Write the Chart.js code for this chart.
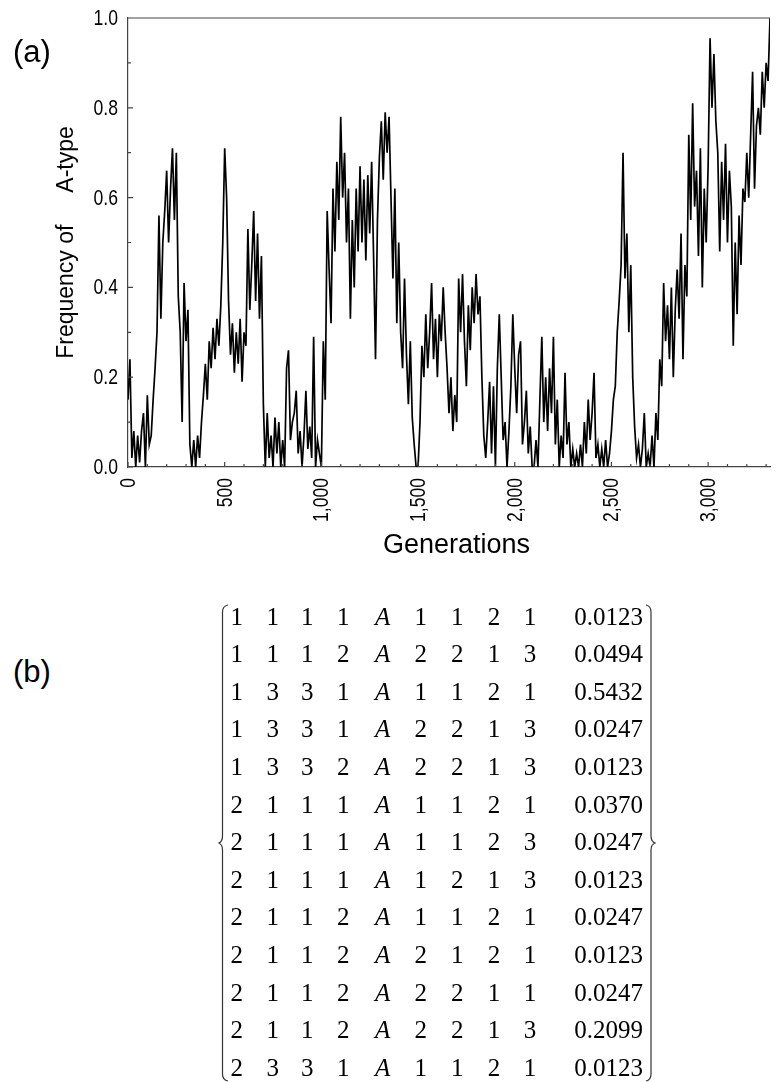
<!DOCTYPE html>
<html>
<head>
<meta charset="utf-8">
<script src="https://cdn.jsdelivr.net/npm/chart.js@4.4.1/dist/chart.umd.min.js"></script>
<style>
  html, body { margin: 0; padding: 0; background: #fff; }
  #page { position: relative; width: 778px; height: 1082px; overflow: hidden; font-family: 'Liberation Sans', Arial, sans-serif; color: #000; }
  #chart { position: absolute; left: 0; top: 0; }
  .panel { position: absolute; left: 13px; font-size: 31px; line-height: 1; }
  .cell, .val { position: absolute; font-family: 'Liberation Serif', 'Times New Roman', serif; font-size: 25px; line-height: 1; white-space: nowrap; }
  .cell { transform: translate(-50%, -50%); }
  .val { transform: translateY(-50%); }
  .cell.it { font-style: italic; }
  #brace { position: absolute; left: 0; top: 0; }
</style>
</head>
<body>
<div id="page">
  <canvas id="chart" width="778" height="570"></canvas>
  <div class="panel" style="top:36px">(a)</div>
  <div class="panel" style="top:656px">(b)</div>
  <svg id="brace" width="778" height="1082">
    <path d="M228 605 Q222.5 606 222.5 612 L222.5 836 Q222.5 842 218.5 843 Q222.5 844 222.5 850 L222.5 1074 Q222.5 1080 228 1081"
          fill="none" stroke="#333" stroke-width="1.2"/>
    <path d="M646 605 Q651 606 651 612 L651 836 Q651 842 655.5 843 Q651 844 651 850 L651 1074 Q651 1080 646 1081"
          fill="none" stroke="#333" stroke-width="1.2"/>
  </svg>
</div>
<script>
// frequency of the A-type, one reading every 10 generations
const genStep = 10;
const freqA = [
  0.15, 0.24, 0.02, 0.08, 0.00, 0.07, 0.01, 0.08, 0.12, 0.00,   // 0
  0.16, 0.05, 0.07, 0.15, 0.22, 0.30, 0.56, 0.33, 0.50, 0.57,   // 100
  0.66, 0.50, 0.62, 0.71, 0.55, 0.70, 0.38, 0.30, 0.10, 0.41,   // 200
  0.28, 0.35, 0.05, 0.00, 0.06, 0.00, 0.07, 0.02, 0.10, 0.16,   // 300
  0.23, 0.15, 0.28, 0.22, 0.31, 0.24, 0.33, 0.27, 0.36, 0.50,   // 400
  0.71, 0.60, 0.37, 0.25, 0.32, 0.21, 0.30, 0.23, 0.33, 0.19,   // 500
  0.30, 0.27, 0.53, 0.35, 0.45, 0.57, 0.37, 0.52, 0.33, 0.47,   // 600
  0.14, 0.00, 0.12, 0.02, 0.07, 0.00, 0.11, 0.03, 0.10, 0.00,   // 700
  0.06, 0.00, 0.22, 0.26, 0.06, 0.10, 0.12, 0.17, 0.03, 0.08,   // 800
  0.00, 0.07, 0.17, 0.04, 0.09, 0.02, 0.29, 0.00, 0.06, 0.03,   // 900
  0.00, 0.28, 0.15, 0.57, 0.44, 0.32, 0.62, 0.48, 0.68, 0.55,   // 1000
  0.78, 0.60, 0.70, 0.50, 0.62, 0.33, 0.55, 0.40, 0.62, 0.48,   // 1100
  0.67, 0.50, 0.64, 0.46, 0.65, 0.52, 0.68, 0.47, 0.24, 0.55,   // 1200
  0.69, 0.77, 0.64, 0.79, 0.70, 0.78, 0.60, 0.42, 0.62, 0.32,   // 1300
  0.50, 0.30, 0.22, 0.42, 0.25, 0.14, 0.28, 0.11, 0.05, 0.00,   // 1400
  0.00, 0.10, 0.27, 0.20, 0.34, 0.22, 0.30, 0.41, 0.24, 0.33,   // 1500
  0.20, 0.34, 0.28, 0.40, 0.30, 0.22, 0.12, 0.20, 0.08, 0.16,   // 1600
  0.10, 0.42, 0.30, 0.43, 0.28, 0.18, 0.36, 0.26, 0.40, 0.32,   // 1700
  0.43, 0.34, 0.38, 0.20, 0.07, 0.02, 0.10, 0.19, 0.03, 0.18,   // 1800
  0.00, 0.22, 0.34, 0.20, 0.06, 0.10, 0.00, 0.08, 0.18, 0.34,   // 1900
  0.22, 0.12, 0.25, 0.28, 0.05, 0.10, 0.17, 0.03, 0.09, 0.00,   // 2000
  0.00, 0.06, 0.00, 0.15, 0.29, 0.10, 0.20, 0.08, 0.22, 0.12,   // 2100
  0.29, 0.05, 0.15, 0.00, 0.07, 0.02, 0.21, 0.05, 0.10, 0.00,   // 2200
  0.04, 0.00, 0.03, 0.00, 0.05, 0.00, 0.10, 0.03, 0.15, 0.06,   // 2300
  0.12, 0.21, 0.02, 0.05, 0.00, 0.04, 0.00, 0.06, 0.00, 0.03,   // 2400
  0.08, 0.15, 0.18, 0.30, 0.37, 0.45, 0.70, 0.42, 0.52, 0.30,   // 2500
  0.45, 0.20, 0.09, 0.02, 0.05, 0.00, 0.04, 0.12, 0.00, 0.03,   // 2600
  0.00, 0.07, 0.00, 0.12, 0.06, 0.24, 0.18, 0.41, 0.28, 0.36,   // 2700
  0.24, 0.40, 0.20, 0.35, 0.44, 0.33, 0.52, 0.24, 0.45, 0.38,   // 2800
  0.74, 0.55, 0.81, 0.58, 0.66, 0.47, 0.71, 0.40, 0.62, 0.50,   // 2900
  0.67, 0.955, 0.80, 0.92, 0.77, 0.70, 0.48, 0.68, 0.55, 0.72,  // 3000
  0.50, 0.66, 0.58, 0.27, 0.50, 0.34, 0.56, 0.45, 0.62, 0.59,   // 3100
  0.70, 0.60, 0.74, 0.88, 0.62, 0.76, 0.80, 0.74, 0.88, 0.80,   // 3200
  0.90, 0.86, 1.00                                              // 3300
];

const xMax = 3320;
const xTickValues = [0, 500, 1000, 1500, 2000, 2500, 3000];
const yTickValues = [0, 0.2, 0.4, 0.6, 0.8, 1.0];

// panel (b): genotype rows, A in the fifth place, and their frequencies
const matrixRows = [
  [1, 1, 1, 1, 'A', 1, 1, 2, 1],
  [1, 1, 1, 2, 'A', 2, 2, 1, 3],
  [1, 3, 3, 1, 'A', 1, 1, 2, 1],
  [1, 3, 3, 1, 'A', 2, 2, 1, 3],
  [1, 3, 3, 2, 'A', 2, 2, 1, 3],
  [2, 1, 1, 1, 'A', 1, 1, 2, 1],
  [2, 1, 1, 1, 'A', 1, 1, 2, 3],
  [2, 1, 1, 1, 'A', 1, 2, 1, 3],
  [2, 1, 1, 2, 'A', 1, 1, 2, 1],
  [2, 1, 1, 2, 'A', 2, 1, 2, 1],
  [2, 1, 1, 2, 'A', 2, 2, 1, 1],
  [2, 1, 1, 2, 'A', 2, 2, 1, 3],
  [2, 3, 3, 1, 'A', 1, 1, 2, 1]
];
const matrixFreq = ['0.0123', '0.0494', '0.5432', '0.0247', '0.0123', '0.0370', '0.0247',
                    '0.0123', '0.0247', '0.0123', '0.0247', '0.2099', '0.0123'];

// matrix layout
const colX = [236.7, 272.7, 307.3, 343.3, 382.7, 420.7, 457.3, 494, 530];
const valRight = 643;
const rowTop = 617, rowGap = 37.6;

const page = document.getElementById('page');
matrixRows.forEach((row, r) => {
  const y = rowTop + r * rowGap - 1.5;
  row.forEach((v, c) => {
    const el = document.createElement('div');
    el.className = v === 'A' ? 'cell it' : 'cell';
    el.textContent = v;
    el.style.left = colX[c] + 'px';
    el.style.top = y + 'px';
    page.appendChild(el);
  });
  const val = document.createElement('div');
  val.className = 'val';
  val.textContent = matrixFreq[r];
  val.style.right = (778 - valRight) + 'px';
  val.style.top = y + 'px';
  page.appendChild(val);
});

// top frame line, inward tick marks, and narrow tick labels
const frameTicks = {
  id: 'frameTicks',
  afterDraw(chart) {
    const { ctx, chartArea: a, scales: { x, y } } = chart;
    ctx.save();
    ctx.strokeStyle = '#444';
    ctx.lineWidth = 1.2;
    ctx.beginPath();
    ctx.moveTo(a.left, a.top);
    ctx.lineTo(a.right, a.top);
    for (let g = 0; g <= xMax; g += 100) {
      const px = x.getPixelForValue(g);
      const len = g % 500 === 0 ? 5 : 3;
      ctx.moveTo(px, a.bottom);
      ctx.lineTo(px, a.bottom - len);
    }
    for (let k = 0; k <= 10; k++) {
      const py = y.getPixelForValue(k / 10);
      const len = k % 2 === 0 ? 5 : 3;
      ctx.moveTo(a.left, py);
      ctx.lineTo(a.left + len, py);
    }
    ctx.stroke();

    // labels are squeezed sideways like a narrow sans
    ctx.fillStyle = '#000';
    ctx.font = "22px 'Liberation Sans', Arial";
    ctx.textBaseline = 'middle';
    ctx.textAlign = 'right';
    yTickValues.forEach(v => {
      ctx.save();
      ctx.translate(a.left - 10, y.getPixelForValue(v) + 1);
      ctx.scale(0.8, 1);
      ctx.fillText(v.toFixed(1), 0, 0);
      ctx.restore();
    });
    xTickValues.forEach(v => {
      ctx.save();
      ctx.translate(x.getPixelForValue(v) + 1, a.bottom + 11);
      ctx.rotate(-Math.PI / 2);
      ctx.scale(0.8, 1);
      ctx.fillText(v.toLocaleString('en-US'), 0, 0);
      ctx.restore();
    });
    ctx.restore();
  }
};

new Chart(document.getElementById('chart'), {
  type: 'line',
  data: {
    datasets: [{
      data: freqA.map((v, i) => ({ x: i * genStep, y: v })),
      borderColor: '#000',
      borderWidth: 1.7,
      pointRadius: 0,
      tension: 0,
      fill: false
    }]
  },
  options: {
    responsive: false,
    animation: false,
    devicePixelRatio: 1,
    layout: { padding: { top: 18, right: 8, left: 0, bottom: 0 } },
    plugins: { legend: { display: false }, tooltip: { enabled: false } },
    scales: {
      x: {
        type: 'linear',
        min: 0,
        max: xMax,
        grid: { display: false, drawTicks: false },
        border: { display: true, color: '#444', width: 1.2 },
        afterFit: s => { s.height = 103; },
        ticks: { display: false },
        title: {
          display: true,
          text: '  Generations',
          color: '#000',
          font: { family: "'Liberation Sans', Arial", size: 27 },
          padding: { top: 0, bottom: 8 }
        }
      },
      y: {
        min: 0,
        max: 1,
        grid: { display: false, drawTicks: false },
        border: { display: true, color: '#444', width: 1.2 },
        afterFit: s => { s.width = 128; },
        ticks: { display: false },
        title: {
          display: true,
          text: 'Frequency of     A-type',
          color: '#000',
          font: { family: "'Liberation Sans', Arial", size: 23 },
          padding: { top: 53, bottom: 0 }
        }
      }
    }
  },
  plugins: [frameTicks]
});
</script>
</body>
</html>
